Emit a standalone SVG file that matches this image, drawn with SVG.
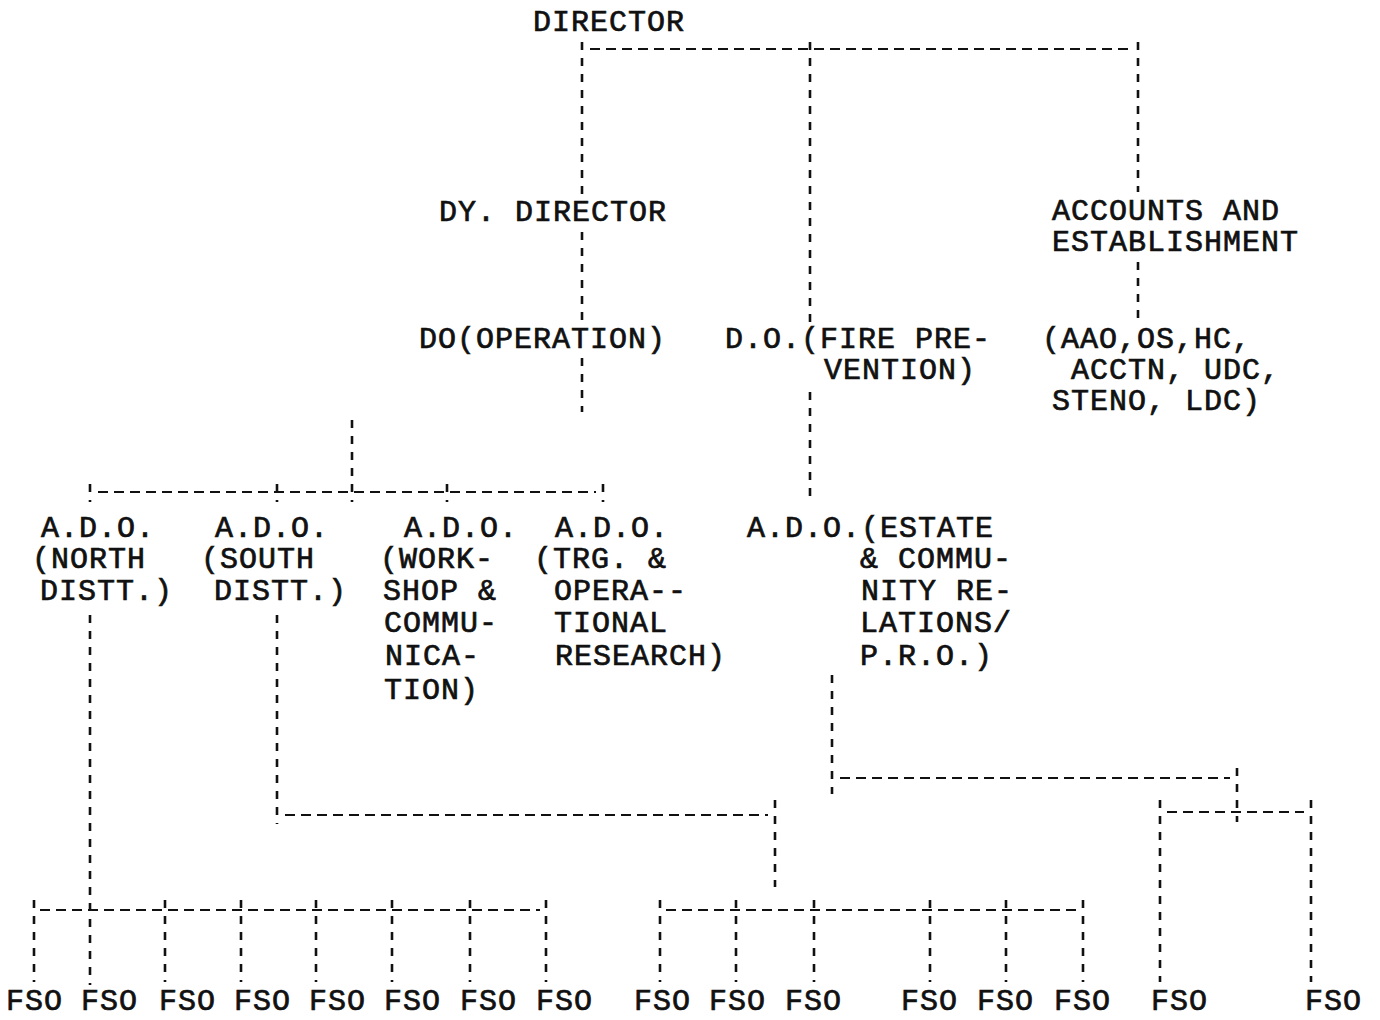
<svg xmlns="http://www.w3.org/2000/svg" width="1380" height="1020" viewBox="0 0 1380 1020">
<style>
text{font-family:"Liberation Mono","DejaVu Sans Mono",monospace;font-size:30px;letter-spacing:1px;fill:#111;stroke:#111;stroke-width:0.7}
.v{stroke:#111;stroke-width:2.6;stroke-dasharray:8 8;fill:none}
.h{stroke:#111;stroke-width:2.2;stroke-dasharray:10 6;fill:none}
</style>
<rect width="1380" height="1020" fill="#fff"/>
<g id="connectors">
<path class="h" d="M590 49H1130"/>
<path class="v" d="M582 42V195M582 232V322M582 358V412"/>
<path class="v" d="M810 42V322M810 392V502"/>
<path class="v" d="M1138 42V192M1138 262V318"/>
<path class="v" d="M352 420V502"/>
<path class="h" d="M98 492H596"/>
<path class="v" d="M90 484V502M277 484V502M447 484V502M603 484V502"/>
<path class="v" d="M90 615V985"/>
<path class="v" d="M277 615V824"/>
<path class="h" d="M285 815H768"/>
<path class="v" d="M775 800V887"/>
<path class="h" d="M40 910H540"/>
<path class="v" d="M34 900V982M165 900V982M241 900V982M316 900V982M392 900V982M470 900V982M546 900V982"/>
<path class="h" d="M666 910H1077"/>
<path class="v" d="M660 900V982M736 900V982M814 900V982M930 900V982M1006 900V982M1083 900V982"/>
<path class="v" d="M832 675V794"/>
<path class="h" d="M840 778H1230"/>
<path class="v" d="M1237 768V822"/>
<path class="h" d="M1167 812H1304"/>
<path class="v" d="M1160 800V982M1311 800V982"/>
</g>
<g id="director"><text x="533" y="31">DIRECTOR</text></g>
<g id="dy-director"><text x="439" y="221">DY. DIRECTOR</text></g>
<g id="accounts"><text x="1052" y="220">ACCOUNTS AND</text><text x="1052" y="251">ESTABLISHMENT</text></g>
<g id="do-operation"><text x="419" y="348">DO(OPERATION)</text></g>
<g id="do-fire"><text x="725" y="348">D.O.(FIRE PRE-</text><text x="824" y="379">VENTION)</text></g>
<g id="staff"><text x="1042" y="348">(AAO,OS,HC,</text><text x="1071" y="379">ACCTN, UDC,</text><text x="1052" y="410">STENO, LDC)</text></g>
<g id="ado-north"><text x="41" y="537">A.D.O.</text><text x="32" y="568">(NORTH</text><text x="40" y="600">DISTT.)</text></g>
<g id="ado-south"><text x="215" y="537">A.D.O.</text><text x="201" y="568">(SOUTH</text><text x="214" y="600">DISTT.)</text></g>
<g id="ado-workshop"><text x="404" y="537">A.D.O.</text><text x="380" y="568">(WORK-</text><text x="383" y="600">SHOP &amp;</text><text x="384" y="632">COMMU-</text><text x="385" y="665">NICA-</text><text x="384" y="699">TION)</text></g>
<g id="ado-trg"><text x="555" y="537">A.D.O.</text><text x="534" y="568">(TRG. &amp;</text><text x="554" y="600">OPERA--</text><text x="554" y="632">TIONAL</text><text x="555" y="665">RESEARCH)</text></g>
<g id="ado-estate"><text x="747" y="537">A.D.O.(ESTATE</text><text x="860" y="568">&amp; COMMU-</text><text x="861" y="600">NITY RE-</text><text x="860" y="632">LATIONS/</text><text x="860" y="665">P.R.O.)</text></g>
<g id="fso">
<text x="6" y="1010">FSO</text><text x="81" y="1010">FSO</text><text x="159" y="1010">FSO</text><text x="234" y="1010">FSO</text><text x="309" y="1010">FSO</text><text x="384" y="1010">FSO</text><text x="460" y="1010">FSO</text><text x="536" y="1010">FSO</text>
<text x="634" y="1010">FSO</text><text x="709" y="1010">FSO</text><text x="785" y="1010">FSO</text><text x="901" y="1010">FSO</text><text x="977" y="1010">FSO</text><text x="1054" y="1010">FSO</text><text x="1151" y="1010">FSO</text><text x="1305" y="1010">FSO</text>
</g>
</svg>
